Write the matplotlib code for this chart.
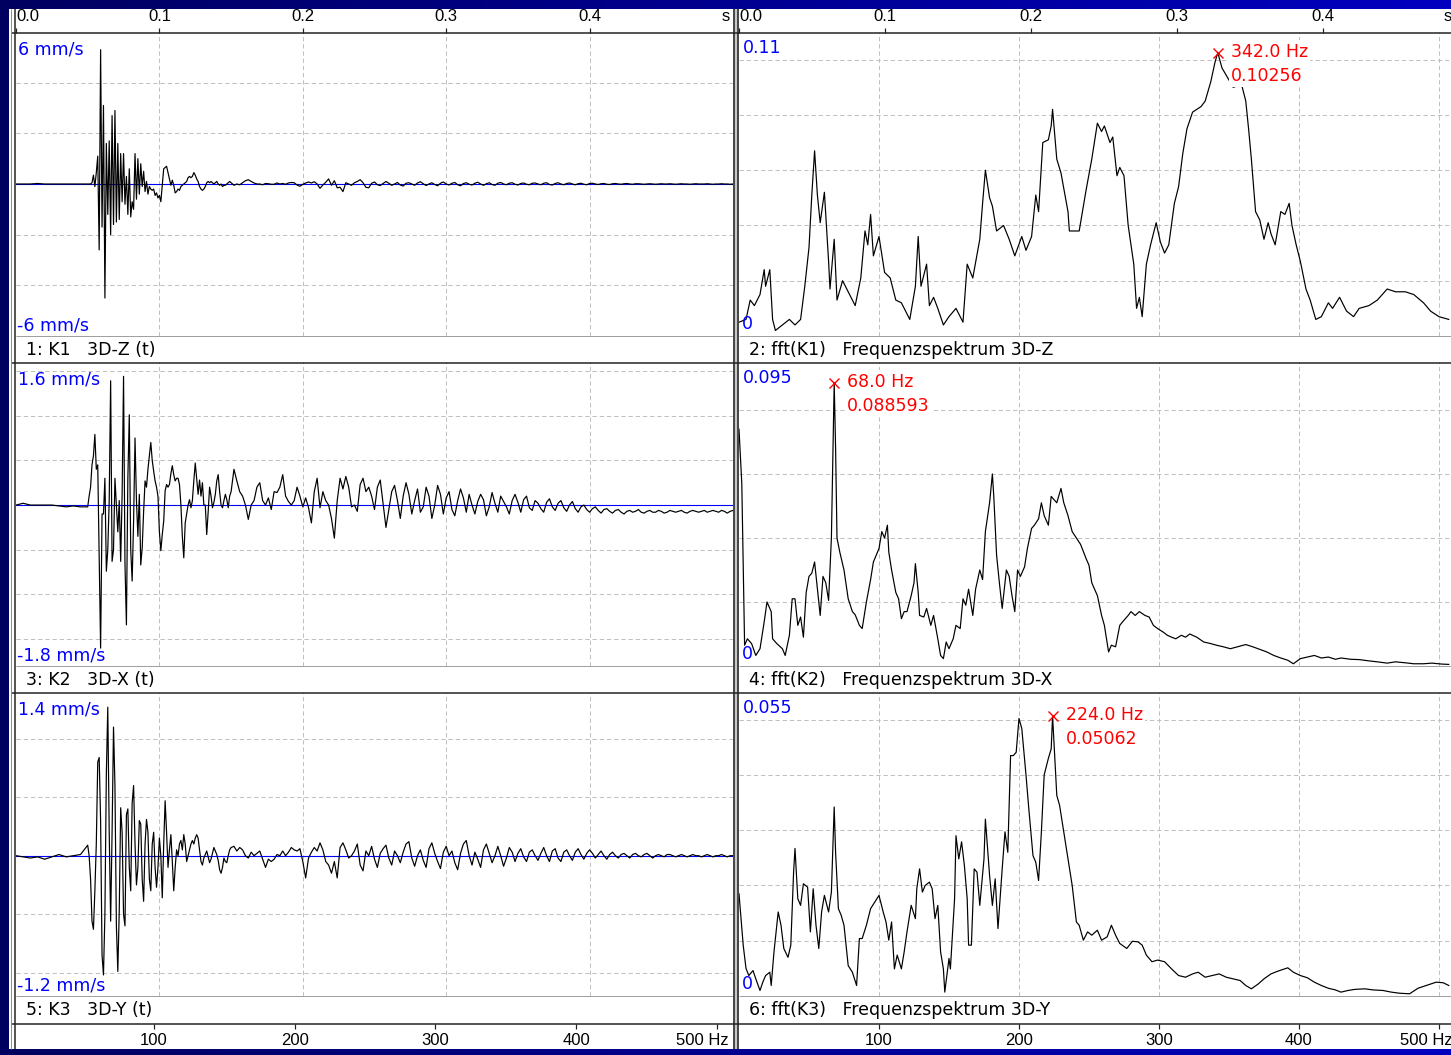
import numpy as np
import matplotlib
matplotlib.use("Agg")
import matplotlib.pyplot as plt
from matplotlib import font_manager as fm
from matplotlib.colors import LinearSegmentedColormap
from matplotlib.patches import Rectangle
from matplotlib.transforms import blended_transform_factory

W, H, DPI = 1451, 1055, 100

# ---------------------------------------------------------------- data
# time base of the velocity records (ms): coarse before the event, fine during it
t_ms = np.concatenate([np.arange(0, 50, 5), np.arange(50, 150, 1), np.arange(150, 501, 2)])

vel_z = [
    0, 0, 0, 0.02, 0, 0, 0, 0, 0, 0,
    0, 0, 0, 0.05, 0.35, -0.1, 0.45, 1.1, -2.6, 5.3,
    -1.7, 3.1, -4.5, 1.6, -1.2, 1.7, -2.0, 2.7, -1.6, 2.9,
    -1.5, 1.6, -1.4, 1.2, -0.7, 1.2, -0.8, 0.3, -1.2, 0.6,
    -1.3, -0.7, -1.0, 1.2, -0.6, 1.0, -0.4, 0.8, -0.1, 0.5,
    -0.3, 0.1, -0.4, -0.1, -0.2, -0.25, -0.2, -0.45, -0.35, -0.55,
    -0.45, -0.7, -0.05, 0.6, 0.65, 0.7, 0.45, 0.2, -0.05, 0.15,
    -0.05, -0.35, -0.3, -0.2, -0.25, -0.1, -0.05, 0.0, 0.05, 0.1,
    0.25, 0.3, 0.25, 0.3, 0.45, 0.35, 0.2, 0.1, -0.1, -0.2,
    -0.25, -0.2, -0.1, 0.05, 0.1, 0.05, 0.1, 0.05, 0.0, 0.05,
    0.1, 0.0, -0.05, 0.0, -0.1, -0.05, -0.05, 0.0, 0.05, 0.1,
    0.05, -0.05, 0.0, -0.03, 0.05, 0.13, 0.17, 0.1, 0.04, 0.0,
    0.0, -0.03, 0.02, 0.01, -0.01, -0.01, 0.04, 0.0, 0.02, -0.01,
    0.04, 0.06, 0.05, -0.04, -0.09, -0.01, 0.04, 0.08, 0.04, 0.09,
    0.0, -0.17, -0.04, 0.07, 0.2, -0.05, 0.13, -0.15, -0.13, -0.3,
    0.05, 0.0, -0.05, 0.05, 0.1, 0.17, 0.05, -0.13, -0.15,
    0.03, 0.08, -0.03, -0.06, 0.02, 0.1, 0.03, -0.05, 0.0, 0.06,
    -0.04, -0.08, 0.03, 0.05, 0.0, -0.05, 0.04, 0.09, 0.01, -0.06,
    0.0, 0.05, -0.02, -0.07, 0.03, 0.08, 0.0, -0.04, 0.03, 0.06,
    -0.03, -0.07, 0.02, 0.05, -0.01, -0.04, 0.03, 0.07, 0.0, -0.05,
    0.01, 0.05, -0.02, -0.05, 0.03, 0.06, 0.0, -0.03, 0.03, 0.05,
    -0.01, -0.04, 0.02, 0.04, -0.01, -0.03, 0.03, 0.04, 0.0, -0.03,
    0.03, 0.05, -0.02, -0.04, 0.02, 0.05, 0.0, -0.03, 0.02, 0.04,
    0.0, -0.03, 0.01, 0.03, -0.01, -0.03, 0.02, 0.03, 0.0, -0.02,
    0.01, 0.02, -0.01, -0.02, 0.01, 0.02, 0.0, -0.01, 0.01, 0.02,
    0.0, -0.01, 0.01, 0.01, 0.0, -0.01, 0.0, 0.01, 0.0, -0.01,
    0.0, 0.01, 0.0, 0.0, 0.01, 0.0, -0.01, 0.0, 0.01, 0.0,
    0.0, -0.01, 0.0, 0.01, 0.0, 0.0, 0.0, 0.01, 0.0, -0.01,
    0.0, 0.0, 0.01, 0.0, 0.0, -0.01, 0.0,
]

vel_x = [
    0, 0.02, 0, 0, 0, 0, -0.01, -0.02, -0.01, -0.02,
    -0.02, 0.1, 0.2, 0.45, 0.55, 0.79, 0.4, 0.45, -0.6, -1.6,
    -0.1, -0.1, 0.3, -0.74, -0.5, 0.05, 1.39, -0.63, -0.5, 0.3,
    0.0, -0.3, 0.05, -0.63, 0.12, 1.44, -0.66, -1.34, 0.3, 1.01,
    -0.5, -0.85, -0.18, 0.75, 0.05, -0.35, 0.12, -0.67, -0.48, -0.07,
    0.27, 0.2, 0.4, 0.55, 0.7, 0.5, 0.38, 0.27, 0.2, 0.1,
    -0.3, -0.51, -0.33, -0.18, 0.16, 0.23, 0.2, 0.23, 0.35, 0.44,
    0.34, 0.27, 0.3, 0.3, 0.23, 0.0, -0.35, -0.59, -0.2, -0.1,
    0.0, 0.06, -0.03, 0.05, 0.27, 0.47, 0.3, 0.12, 0.28, 0.1,
    0.25, 0.0, 0.0, -0.33, -0.08, 0.2, 0.1, -0.03, 0.03, 0.12,
    0.27, 0.34, 0.15, 0.0, -0.03, 0.05, 0.12, 0.06, -0.03, 0.1,
    0.15, 0.4, 0.27, 0.15, 0.1, 0.0, -0.16, 0.0, 0.05, 0.2,
    0.25, 0.05, 0.0, 0.08, -0.05, 0.15, 0.14, 0.2, 0.34, 0.1,
    0.04, 0.0, 0.05, 0.2, 0.1, -0.02, 0.08, -0.03, -0.2, 0.15,
    0.3, -0.03, 0.15, 0.05, 0.0, -0.15, -0.37, 0.05, 0.3, 0.18,
    0.32, 0.2, -0.02, 0.0, -0.07, 0.23, 0.3, 0.15, 0.2,
    0.1, -0.05, 0.2, 0.28, 0.02, -0.25, -0.05, 0.15, 0.22, 0.05,
    -0.15, 0.1, 0.25, 0.12, -0.1, 0.05, 0.18, -0.08, -0.02, 0.2,
    0.1, -0.15, 0.0, 0.22, 0.12, -0.1, 0.08, 0.15, -0.05, -0.12,
    0.05, 0.18, 0.08, -0.08, 0.12, 0.0, -0.1, 0.04, 0.12, 0.06,
    -0.12, -0.02, 0.14, 0.02, -0.08, 0.1, 0.04, -0.02, -0.1, 0.05,
    0.12, 0.03, -0.08, 0.06, 0.1, -0.03, -0.06, 0.05, 0.02, -0.04,
    -0.08, 0.03, 0.07, -0.02, -0.06, 0.02, 0.05, -0.03, -0.07, 0.0,
    0.04, -0.04, -0.08, -0.02, 0.0, -0.05, -0.08, -0.04, -0.02, -0.06,
    -0.09, -0.05, -0.04, -0.07, -0.09, -0.06, -0.05, -0.08, -0.1, -0.07,
    -0.06, -0.08, -0.07, -0.05, -0.08, -0.09, -0.07, -0.06, -0.08, -0.08,
    -0.06, -0.07, -0.09, -0.08, -0.06, -0.07, -0.08, -0.07, -0.06, -0.08,
    -0.09, -0.07, -0.06, -0.07, -0.08, -0.07, -0.06, -0.08, -0.07, -0.06,
    -0.07, -0.08, -0.06, -0.07, -0.09, -0.07, -0.06,
]

vel_y = [
    0.0, -0.01, -0.02, -0.01, -0.03, -0.01, 0.01, -0.01, 0.0, 0.01,
    0.09, 0.0, -0.2, -0.56, -0.63, -0.3, 0.1, 0.8, 0.84, 0.3,
    -0.85, -1.02, -0.5, 0.7, 1.27, 0.2, -0.56, 0.2, 1.1, 0.6,
    -0.6, -0.99, -0.47, 0.41, 0.2, -0.5, -0.6, 0.35, 0.4, -0.1,
    -0.3, 0.45, 0.6, 0.1, -0.25, -0.1, 0.3, 0.27, -0.2, -0.39,
    0.1, 0.31, 0.2, -0.2, -0.3, 0.1, 0.2, -0.1, -0.27, -0.1,
    0.15, 0.0, -0.36, 0.1, 0.47, 0.2, -0.1, 0.05, 0.18, -0.05,
    -0.3, -0.1, 0.05, 0.0, 0.1, 0.13, 0.05, 0.18, 0.1, -0.05,
    0.0, 0.05, 0.1, 0.13, 0.1, 0.15, 0.18, 0.15, 0.05, -0.05,
    -0.08, -0.02, 0.01, 0.04, -0.01, -0.06, -0.03, 0.02, 0.07, 0.04,
    0.01, -0.04, -0.12, -0.15, -0.1, -0.02, -0.05, -0.06, 0.0, 0.05,
    0.07, 0.08, 0.04, 0.07, 0.05, 0.0, -0.02, 0.03, 0.0, 0.02,
    0.04, -0.03, -0.1, -0.03, -0.05, -0.03, 0.01, 0.0, 0.04, 0.0,
    0.03, 0.07, 0.05, 0.04, 0.06, -0.05, -0.19, -0.02, 0.03, 0.07,
    0.04, 0.11, 0.05, -0.05, -0.08, -0.15, -0.05, -0.19, 0.07, 0.11,
    0.05, -0.02, 0.0, 0.04, 0.1, -0.08, -0.13, 0.04, 0.0,
    0.08, -0.03, -0.1, 0.02, 0.06, 0.09, -0.02, -0.08, 0.04, 0.0,
    -0.06, 0.03, 0.1, 0.12, -0.02, -0.09, 0.0, 0.05, -0.04, -0.1,
    0.06, 0.11, 0.02, -0.05, -0.11, 0.03, 0.08, 0.0, 0.04, -0.06,
    -0.12, 0.02, 0.1, 0.13, 0.0, -0.08, 0.03, -0.03, -0.1, 0.05,
    0.1, 0.02, -0.06, 0.0, 0.08, 0.0, -0.09, -0.02, 0.07, 0.03,
    -0.05, 0.02, 0.06, -0.01, -0.05, 0.03, 0.05, 0.0, -0.04, 0.02,
    0.07, 0.0, -0.05, 0.04, 0.06, -0.02, -0.05, 0.03, 0.05, 0.0,
    -0.04, 0.03, 0.06, 0.01, -0.03, 0.02, 0.05, 0.02, -0.02, 0.01,
    0.04, 0.0, -0.03, 0.01, 0.03, 0.0, -0.02, 0.01, 0.02, 0.0,
    -0.02, 0.01, 0.02, 0.0, -0.01, 0.01, 0.02, 0.0, -0.02, 0.0,
    0.01, 0.0, -0.01, 0.01, 0.01, 0.0, -0.01, 0.0, 0.01, 0.0,
    -0.01, 0.0, 0.01, 0.0, 0.0, -0.01, 0.0, 0.01, 0.0, -0.01,
    0.0, 0.0, 0.01, 0.0, -0.01, 0.0, 0.0,
]

# amplitude spectra (frequency in Hz, amplitude)
freq_z = [0, 5, 8, 11, 15, 18, 19, 22, 24, 26, 31, 36, 40, 44, 47, 50, 52, 54, 56, 58,
          61, 64, 65, 68, 70, 74, 78, 83, 87, 90, 92, 94, 96, 100, 104, 108, 112, 116, 122, 126,
          128, 130, 134, 136, 139, 142, 146, 150, 155, 160, 163, 167, 172, 174, 176, 179, 181, 184, 189, 193,
          197, 202, 205, 209, 212, 214, 217, 221, 223, 224, 227, 230, 235, 236, 243, 248, 252, 256, 259, 261,
          265, 267, 270, 272, 275, 278, 282, 284, 286, 288, 291, 294, 298, 301, 304, 307, 311, 314, 317, 320,
          324, 327, 330, 333, 337, 340, 342, 345, 353, 359, 362, 364, 366, 369, 372, 375, 378, 380, 383, 387,
          390, 393, 395, 398, 401, 405, 408, 412, 416, 421, 424, 429, 434, 439, 443, 450, 456, 463, 469, 476,
          482, 489, 494, 500, 507]
amp_z = [0.005, 0.006, 0.013, 0.011, 0.015, 0.024, 0.018, 0.024, 0.006, 0.002,
         0.004, 0.006, 0.004, 0.006, 0.018, 0.032, 0.051, 0.067, 0.051, 0.041,
         0.052, 0.027, 0.017, 0.035, 0.013, 0.020, 0.016, 0.011, 0.021, 0.038,
         0.033, 0.044, 0.029, 0.036, 0.023, 0.021, 0.013, 0.012, 0.006, 0.018,
         0.036, 0.018, 0.026, 0.011, 0.014, 0.010, 0.004, 0.007, 0.010, 0.005,
         0.026, 0.021, 0.035, 0.048, 0.060, 0.050, 0.047, 0.038, 0.040, 0.035,
         0.029, 0.036, 0.031, 0.036, 0.051, 0.045, 0.070, 0.071, 0.076, 0.082,
         0.064, 0.059, 0.045, 0.038, 0.038, 0.053, 0.064, 0.077, 0.074, 0.076,
         0.070, 0.072, 0.058, 0.061, 0.058, 0.040, 0.026, 0.010, 0.014, 0.007,
         0.026, 0.033, 0.041, 0.034, 0.030, 0.033, 0.048, 0.054, 0.066, 0.075,
         0.081, 0.082, 0.083, 0.085, 0.092, 0.099, 0.10256, 0.097, 0.090, 0.091,
         0.085, 0.075, 0.064, 0.045, 0.042, 0.035, 0.041, 0.037, 0.033, 0.045,
         0.044, 0.048, 0.040, 0.033, 0.027, 0.017, 0.013, 0.006, 0.007, 0.012,
         0.010, 0.014, 0.009, 0.007, 0.010, 0.011, 0.013, 0.017, 0.016, 0.016,
         0.015, 0.012, 0.009, 0.007, 0.006]

freq_x = [0, 2, 4, 6, 9, 12, 15, 18, 20, 23, 24, 27, 31, 33, 36, 38, 40, 42, 44, 46,
          48, 50, 52, 54, 56, 58, 60, 62, 64, 66, 68, 69, 70, 72, 75, 78, 81, 83, 86, 88,
          91, 94, 96, 100, 102, 104, 106, 107, 109, 112, 114, 116, 118, 120, 123, 125, 126, 128, 129, 132,
          134, 137, 139, 142, 144, 146, 148, 150, 153, 155, 158, 160, 162, 164, 167, 169, 172, 174, 176, 179,
          181, 182, 184, 186, 188, 191, 193, 195, 197, 199, 201, 204, 206, 209, 211, 214, 216, 218, 221, 223,
          225, 227, 230, 232, 235, 238, 241, 244, 248, 250, 252, 256, 259, 261, 264, 266, 269, 272, 274, 278,
          280, 283, 286, 290, 293, 296, 299, 303, 306, 309, 312, 316, 319, 322, 327, 332, 337, 341, 346, 351,
          356, 362, 367, 372, 377, 382, 387, 392, 396, 401, 406, 411, 416, 421, 426, 430, 437, 443, 450, 456,
          463, 469, 476, 482, 489, 495, 502, 507]
amp_x = [0.074, 0.057, 0.0065, 0.0085, 0.007, 0.0033, 0.0054, 0.0138, 0.020, 0.017,
         0.0085, 0.007, 0.0054, 0.0033, 0.0096, 0.021, 0.021, 0.0127, 0.0153, 0.009,
         0.023, 0.028, 0.029, 0.0325, 0.024, 0.0158, 0.028, 0.026, 0.0205, 0.040,
         0.088593, 0.068, 0.040, 0.0356, 0.030, 0.021, 0.017, 0.016, 0.0127, 0.0117,
         0.020, 0.027, 0.0325, 0.0367, 0.042, 0.040, 0.044, 0.0356, 0.030, 0.023,
         0.021, 0.0148, 0.017, 0.017, 0.022, 0.026, 0.032, 0.023, 0.0158, 0.0153,
         0.018, 0.0127, 0.0158, 0.0085, 0.0033, 0.0023, 0.0075, 0.0054, 0.0085, 0.0127,
         0.0117, 0.021, 0.019, 0.024, 0.0158, 0.024, 0.030, 0.027, 0.042, 0.051,
         0.060, 0.053, 0.0346, 0.026, 0.018, 0.030, 0.028, 0.022, 0.017, 0.030,
         0.028, 0.031, 0.0367, 0.043, 0.044, 0.046, 0.051, 0.047, 0.044, 0.053,
         0.052, 0.051, 0.0555, 0.051, 0.047, 0.042, 0.040, 0.038, 0.0335, 0.0315,
         0.026, 0.022, 0.0158, 0.0127, 0.0044, 0.0065, 0.006, 0.0127, 0.0138, 0.0158,
         0.017, 0.0158, 0.017, 0.0158, 0.0153, 0.0127, 0.0117, 0.0106, 0.0096, 0.009,
         0.0085, 0.0096, 0.009, 0.010, 0.009, 0.0075, 0.007, 0.0065, 0.006, 0.0054,
         0.006, 0.0067, 0.006, 0.0052, 0.0044, 0.0033, 0.0025, 0.0018, 0.0007, 0.0023,
         0.0028, 0.0033, 0.0025, 0.0028, 0.0021, 0.0025, 0.0021, 0.002, 0.0016, 0.0013,
         0.0009, 0.0013, 0.001, 0.0007, 0.0007, 0.0009, 0.0006, 0.0005]

freq_y = [0, 3, 5, 7, 10, 12, 15, 17, 19, 22, 23, 25, 28, 30, 32, 35, 37, 39, 40, 42,
          44, 46, 49, 51, 53, 55, 57, 59, 61, 64, 66, 68, 69, 71, 73, 75, 78, 81, 84, 86,
          88, 91, 94, 97, 100, 103, 105, 107, 109, 111, 113, 116, 118, 120, 123, 126, 127, 129, 131, 133,
          136, 138, 140, 142, 144, 146, 147, 150, 151, 154, 155, 157, 159, 161, 163, 164, 166, 168, 170, 172,
          175, 176, 179, 181, 183, 185, 188, 190, 192, 194, 196, 198, 200, 202, 205, 207, 210, 212, 214, 216,
          218, 221, 223, 224, 227, 229, 232, 235, 238, 241, 243, 246, 249, 252, 256, 259, 263, 266, 269, 272,
          277, 281, 285, 288, 291, 295, 299, 304, 309, 314, 319, 324, 328, 333, 338, 343, 348, 353, 358, 362,
          366, 371, 375, 380, 385, 392, 396, 401, 406, 411, 416, 421, 426, 430, 435, 440, 447, 453, 460, 466,
          472, 479, 485, 492, 498, 503, 507]
amp_y = [0.0185, 0.0092, 0.005, 0.0037, 0.0046, 0.0031, 0.001, 0.0025, 0.0037, 0.0043,
         0.0019, 0.008, 0.0152, 0.0128, 0.0086, 0.007, 0.0092, 0.0224, 0.0267, 0.0176,
         0.0164, 0.0203, 0.0197, 0.0116, 0.0194, 0.0128, 0.0086, 0.0152, 0.0182, 0.0152,
         0.0188, 0.0342, 0.026, 0.0158, 0.0146, 0.0128, 0.0055, 0.0043, 0.0019, 0.0104,
         0.0104, 0.0128, 0.0158, 0.017, 0.0182, 0.0152, 0.0134, 0.0101, 0.0134, 0.0049,
         0.0074, 0.0049, 0.008, 0.0116, 0.0164, 0.014, 0.0194, 0.023, 0.0188, 0.020,
         0.0206, 0.0194, 0.014, 0.0164, 0.008, 0.0049, 0.0007, 0.0068, 0.0049, 0.0176,
         0.029, 0.0248, 0.0279, 0.0236, 0.0176, 0.0092, 0.0092, 0.023, 0.0224, 0.0164,
         0.0248, 0.032, 0.0218, 0.0164, 0.0212, 0.0122, 0.023, 0.0297, 0.026, 0.0435,
         0.0435, 0.0441, 0.0502, 0.0484, 0.040, 0.0339, 0.0254, 0.0242, 0.0209, 0.0297,
         0.040, 0.043, 0.0447, 0.05062, 0.0363, 0.0345, 0.0297, 0.0248, 0.020, 0.0134,
         0.0128, 0.0101, 0.0116, 0.011, 0.0119, 0.0101, 0.0107, 0.0128, 0.011, 0.0095,
         0.0086, 0.0099, 0.0098, 0.0092, 0.0074, 0.0062, 0.0065, 0.0062, 0.0049, 0.0037,
         0.0034, 0.004, 0.0043, 0.0034, 0.0037, 0.004, 0.0034, 0.0031, 0.0028, 0.0019,
         0.0013, 0.0022, 0.0031, 0.004, 0.0045, 0.0051, 0.0043, 0.0037, 0.0033, 0.0025,
         0.0019, 0.0014, 0.0011, 0.0007, 0.001, 0.0012, 0.0013, 0.0011, 0.001, 0.0007,
         0.0005, 0.0004, 0.0014, 0.002, 0.0025, 0.0024, 0.0019]

velocities = [vel_z, vel_x, vel_y]
spec_freqs = [freq_z, freq_x, freq_y]
spec_amps = [amp_z, amp_x, amp_y]

vel_top = [6, 1.6, 1.4]
vel_bottom = [-6, -1.8, -1.2]
vel_grid = [[-4, -2, 2, 4], [-1.5, -1.0, -0.5, 0.5, 1.0, 1.5], [-1.0, -0.5, 0.5, 1.0]]
spec_top = [0.11, 0.095, 0.055]
spec_grid = [[0.02, 0.04, 0.06, 0.08, 0.10], [0.02, 0.04, 0.06, 0.08], [0.01, 0.02, 0.03, 0.04, 0.05]]

peak_freq = [342.0, 68.0, 224.0]
peak_amp = [0.10256, 0.088593, 0.05062]

left_titles = ["1: K1   3D-Z (t)", "3: K2   3D-X (t)", "5: K3   3D-Y (t)"]
right_titles = ["2: fft(K1)   Frequenzspektrum 3D-Z", "4: fft(K2)   Frequenzspektrum 3D-X",
                "6: fft(K3)   Frequenzspektrum 3D-Y"]

time_ticks = [0.0, 0.1, 0.2, 0.3, 0.4]
time_tick_labels = ["0.0", "0.1", "0.2", "0.3", "0.4"]
freq_ticks = [100, 200, 300, 400, 500]
freq_tick_labels = ["100", "200", "300", "400", "500 Hz"]

# ---------------------------------------------------------------- style
avail = {f.name for f in fm.fontManager.ttflist}


def pick(*names):
    for n in names:
        if n in avail:
            return n
    return "DejaVu Sans"


TICK_FONT = pick("Liberation Sans Narrow", "DejaVu Sans Condensed", "Liberation Sans")
TEXT_FONT = "DejaVu Sans"
PX = 72.0 / DPI           # points per pixel
DARK = "#202020"
GRID = "#c0c0c0"
BLUE = "#0000ff"
RED = "#ff0000"
TXT = 12.5
TICKS = 12

fig = plt.figure(figsize=(W / DPI, H / DPI), dpi=DPI)
fig.patch.set_facecolor("#000070")


def rect(x0, y0, x1, y1):
    return [x0 / W, 1 - y1 / H, (x1 - x0) / W, (y1 - y0) / H]


navy = LinearSegmentedColormap.from_list("navy", ["#000060", "#0000c0"])
shade = np.linspace(0, 1, 256)[None, :]

# background (window frame)
bg = fig.add_axes([0, 0, 1, 1], zorder=-5)
bg.imshow(shade, aspect="auto", cmap=navy, extent=(0, W, H, 0))
bg.set_xlim(0, W)
bg.set_ylim(H, 0)
bg.add_patch(Rectangle((9, 0), 733 - 9, 1049, color="white", lw=0))
bg.add_patch(Rectangle((739, 0), W - 739, 1049, color="white", lw=0))
bg.add_patch(Rectangle((733, 0), 6, 1049, color="#c8c8c8", lw=0))
bg.set_axis_off()

# overlay for frame lines and annotations given in pixel units
ov = fig.add_axes([0, 0, 1, 1], zorder=20)
ov.set_axis_off()

columns = [(16, 733), (739, W)]
panel_tops = [32, 362, 692]
PH = 304
grid_ls = (0, (6 * PX, 4 * PX))

for i, top in enumerate(panel_tops):
    # ---- left: velocity time signal
    x0, x1 = columns[0]
    ax = fig.add_axes(rect(x0, top, x1, top + PH))
    ax.set_xlim(0, 0.5)
    ax.set_ylim(vel_bottom[i], vel_top[i])
    ax.set_xticks([0.1, 0.2, 0.3, 0.4])
    ax.set_yticks(vel_grid[i])
    ax.grid(True, color=GRID, linestyle=grid_ls, lw=1 * PX)
    ax.tick_params(length=0, labelbottom=False, labelleft=False)
    for s in ax.spines.values():
        s.set_visible(False)
    ax.axhline(0, color=BLUE, lw=1.1 * PX, zorder=2)
    ax.plot(t_ms / 1000.0, velocities[i], color="black", lw=1.2 * PX, zorder=3)

    ov.text(x0 + 2, top + 22, f"{vel_top[i]:g} mm/s", color=BLUE, fontsize=TXT,
            family=TEXT_FONT, va="baseline", ha="left")
    ov.text(x0 + 1, top + PH - 5, f"{vel_bottom[i]:g} mm/s", color=BLUE, fontsize=TXT,
            family=TEXT_FONT, va="baseline", ha="left")
    ov.text(x0 + 10, top + PH + 19, left_titles[i], color="black", fontsize=TXT,
            family=TEXT_FONT, va="baseline", ha="left")

    # ---- right: amplitude spectrum
    x0, x1 = columns[1]
    ax = fig.add_axes(rect(x0, top, x1, top + PH))
    ax.set_xlim(0, 508.6)
    ax.set_ylim(0, spec_top[i])
    ax.set_xticks(freq_ticks)
    ax.set_yticks(spec_grid[i])
    ax.grid(True, color=GRID, linestyle=grid_ls, lw=1 * PX)
    ax.tick_params(length=0, labelbottom=False, labelleft=False)
    for s in ax.spines.values():
        s.set_visible(False)
    ax.plot(spec_freqs[i], spec_amps[i], color="black", lw=1.2 * PX, zorder=3)
    ax.plot([peak_freq[i]], [peak_amp[i]], ls="none", marker="x", color=RED,
            ms=7, mew=1.0, zorder=6)
    ax.annotate(f"{peak_freq[i]:.1f} Hz", (peak_freq[i], peak_amp[i]),
                xytext=(13 * PX, -4 * PX), textcoords="offset points", color=RED,
                fontsize=TXT, family=TEXT_FONT, ha="left", va="baseline", zorder=7,
                bbox=dict(facecolor="white", edgecolor="none", pad=1.5))
    ax.annotate(f"{peak_amp[i]:g}", (peak_freq[i], peak_amp[i]),
                xytext=(13 * PX, -28 * PX), textcoords="offset points", color=RED,
                fontsize=TXT, family=TEXT_FONT, ha="left", va="baseline", zorder=7,
                bbox=dict(facecolor="white", edgecolor="none", pad=1.5))

    ov.text(x0 + 4, top + 21, f"{spec_top[i]:g}", color=BLUE, fontsize=TXT,
            family=TEXT_FONT, va="baseline", ha="left")
    ov.text(x0 + 3, top + PH - 7, "0", color=BLUE, fontsize=TXT,
            family=TEXT_FONT, va="baseline", ha="left")
    ov.text(x0 + 10, top + PH + 19, right_titles[i], color="black", fontsize=TXT,
            family=TEXT_FONT, va="baseline", ha="left")

# ---- axis strips (top: time in s, bottom: frequency in Hz)
top_ranges = [(0, 0.5), (0, 0.4877)]
bottom_ranges = [(2.1, 511.4), (0, 508.6)]
for c, (x0, x1) in enumerate(columns):
    ta = fig.add_axes(rect(x0, 9, x1, 32.5), zorder=5)
    ta.set_xlim(*top_ranges[c])
    ta.set_ylim(0, 1)
    ta.patch.set_alpha(0)
    for s in ta.spines.values():
        s.set_visible(False)
    ta.set_xticks(time_ticks)
    ta.set_yticks([])
    ta.tick_params(axis="x", direction="in", length=5 * PX, width=1.2 * PX, color=DARK,
                   labelbottom=False)
    tr = blended_transform_factory(ta.transData, ov.transData)
    for k, (tv, tl) in enumerate(zip(time_ticks, time_tick_labels)):
        ta.text(tv, 21, tl, transform=tr, ha="left" if k == 0 else "center",
                va="baseline", fontsize=TICKS, family=TICK_FONT, color="black")
    ov.text(x1 - 3 if c == 0 else W + 1, 21, "s", ha="right", va="baseline",
            fontsize=TICKS, family=TICK_FONT, color="black")

    ba = fig.add_axes(rect(x0, 1023.5, x1, 1049), zorder=5)
    ba.set_xlim(*bottom_ranges[c])
    ba.set_ylim(0, 1)
    ba.patch.set_alpha(0)
    for s in ba.spines.values():
        s.set_visible(False)
    ba.set_xticks(freq_ticks)
    ba.set_yticks([])
    ba.tick_params(axis="x", direction="in", length=5 * PX, width=1.2 * PX, color=DARK,
                   top=True, bottom=False, labelbottom=False)
    trb = blended_transform_factory(ba.transData, ov.transData)
    for k, (fv, fl) in enumerate(zip(freq_ticks, freq_tick_labels)):
        if k == len(freq_ticks) - 1:
            ov.text(x1 - 4 if c == 0 else W + 2, 1045, fl, ha="right", va="baseline",
                    fontsize=TICKS, family=TICK_FONT, color="black")
        else:
            ba.text(fv, 1045, fl, transform=trb, ha="center", va="baseline",
                    fontsize=TICKS, family=TICK_FONT, color="black")

# ---- frame lines
ov.hlines(32.5, 12, W, color=DARK, lw=1.5 * PX)
for (x0, x1) in columns:
    ov.hlines([t + PH for t in panel_tops], x0, x1, color="#a0a0a0", lw=1.0 * PX)
ov.hlines([362.5, 692.5, 1023.5], 12, W, color=DARK, lw=1.5 * PX)
ov.vlines(11, 9, 1049, color="#909090", lw=1.0 * PX)
ov.vlines(15, 9, 1049, color=DARK, lw=1.5 * PX)
ov.vlines([733.8, 738.3], 9, 1049, color=DARK, lw=1.5 * PX)

# title-bar band at the very top
ov.imshow(shade, aspect="auto", cmap=navy, extent=(0, W, 9, 0), zorder=30)
ov.set_xlim(0, W)
ov.set_ylim(H, 0)

fig.savefig("out.png", dpi=DPI, facecolor=fig.get_facecolor())
